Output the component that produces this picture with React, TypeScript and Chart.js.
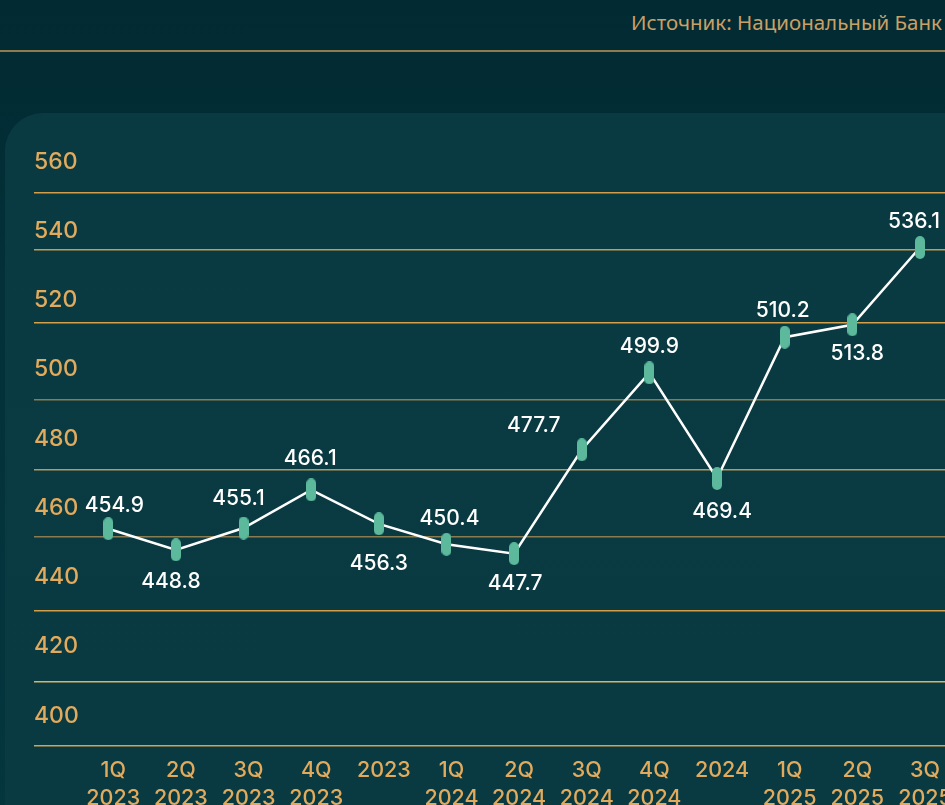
import React, { useEffect, useRef } from "react";
import { Chart, registerables } from "chart.js";

Chart.register(...registerables);

// ---- data ----
const CATEGORIES: string[][] = [
  ["1Q", "2023"], ["2Q", "2023"], ["3Q", "2023"], ["4Q", "2023"], ["2023"],
  ["1Q", "2024"], ["2Q", "2024"], ["3Q", "2024"], ["4Q", "2024"], ["2024"],
  ["1Q", "2025"], ["2Q", "2025"], ["3Q", "2025"],
];
const VALUES: number[] = [454.9, 448.8, 455.1, 466.1, 456.3, 450.4, 447.7, 477.7, 499.9, 469.4, 510.2, 513.8, 536.1];
const Y_TICKS: number[] = [400, 420, 440, 460, 480, 500, 520, 540, 560];
const SOURCE_TEXT = "Источник: Национальный Банк";

// ---- styling (kept apart from the data) ----
const GRID_LEVELS = [392.14, 410.71, 431.34, 452.59, 472.06, 492.27, 514.51, 535.39, 552.06];
const GRID_COLORS = ["#d6a24e", "#d9b266", "#d49d48", "#8a7c4f", "#b89a5c", "#8a7c4f", "#d69f4a", "#c99a4e", "#d39d4a"];
const LABEL_OFFSETS: [number, number][] = [
  [6, -23], [-5, 32], [-5, -29], [-1, -31], [0, 40], [3, -26], [1, 30],
  [-48, -24], [0, -26], [5, 33], [-2, -27], [5, 29], [-6, -26],
];
const GOLD = "#e2aa5c";
const FONT = "Inter, 'Noto Sans', sans-serif";

function makePill(): HTMLCanvasElement {
  const c = document.createElement("canvas");
  const w = 10, h = 23;
  c.width = w;
  c.height = h;
  const ctx = c.getContext("2d")!;
  const r = w / 2;
  ctx.fillStyle = "#5cb99c";
  ctx.beginPath();
  ctx.moveTo(0, r);
  ctx.arc(r, r, r, Math.PI, 0);
  ctx.lineTo(w, h - r);
  ctx.arc(r, h - r, r, 0, Math.PI);
  ctx.closePath();
  ctx.fill();
  return c;
}

const valueLabels = {
  id: "valueLabels",
  afterDatasetsDraw(chart: any) {
    const ctx = chart.ctx;
    const meta = chart.getDatasetMeta(0);
    ctx.save();
    ctx.font = `500 21px ${FONT}`;
    ctx.fillStyle = "#ffffff";
    ctx.textAlign = "center";
    ctx.textBaseline = "middle";
    meta.data.forEach((el: any, i: number) => {
      const [dx, dy] = LABEL_OFFSETS[i];
      ctx.fillText(VALUES[i].toFixed(1), el.x + dx, el.y + dy);
    });
    ctx.restore();
  },
};

export default function App() {
  const ref = useRef<HTMLCanvasElement | null>(null);

  useEffect(() => {
    document.body.style.margin = "0";
    const canvas = ref.current!;
    const pill = makePill();
    const chart = new Chart(canvas, {
      type: "line",
      data: {
        datasets: [
          {
            data: VALUES.map((v, i) => ({ x: i, y: v })),
            borderColor: "#ffffff",
            borderWidth: 2.5,
            tension: 0,
            pointStyle: pill as any,
            pointRadius: 10,
            pointHoverRadius: 10,
            fill: false,
          },
        ],
      },
      options: {
        animation: false,
        responsive: false,
        devicePixelRatio: 1,
        layout: { autoPadding: false, padding: { top: 140, left: 34, right: 0, bottom: 0 } },
        plugins: { legend: { display: false }, tooltip: { enabled: false } },
        scales: {
          x: {
            type: "linear",
            min: -1.098,
            max: 12.37,
            grid: { display: false },
            border: { display: false },
            afterBuildTicks: (scale: any) => {
              scale.ticks = CATEGORIES.map((_, i) => ({ value: i }));
            },
            afterFit: (scale: any) => {
              scale.height = 55;
              scale.paddingLeft = 0;
              scale.paddingRight = 0;
            },
            ticks: {
              color: GOLD,
              font: { family: FONT, size: 21.5, weight: "500", lineHeight: 1.3 },
              padding: -1,
              labelOffset: 5,
              maxRotation: 0,
              autoSkip: false,
              callback: (v: any) => CATEGORIES[Math.round(Number(v))] ?? "",
            },
          },
          y: {
            type: "linear",
            position: "left",
            min: 390.99,
            max: 567.16,
            grid: { display: false, drawTicks: false },
            border: { display: false },
            afterBuildTicks: (scale: any) => {
              scale.ticks = Y_TICKS.map((v) => ({ value: v }));
            },
            afterFit: (scale: any) => {
              scale.width = 0;
              scale.paddingTop = 0;
              scale.paddingBottom = 0;
            },
            ticks: {
              mirror: true,
              padding: 0,
              labelOffset: -3,
              color: GOLD,
              font: { family: FONT, size: 23, weight: "500" },
              callback: (v: any) => String(v),
            },
          },
          y2: {
            type: "linear",
            position: "right",
            min: 390.99,
            max: 567.16,
            border: { display: false },
            grid: {
              display: true,
              drawTicks: false,
              lineWidth: 1.5,
              color: (ctx: any) => GRID_COLORS[ctx.index] ?? GRID_COLORS[0],
            },
            afterBuildTicks: (scale: any) => {
              scale.ticks = GRID_LEVELS.map((v) => ({ value: v }));
            },
            afterFit: (scale: any) => {
              scale.width = 0;
              scale.paddingTop = 0;
              scale.paddingBottom = 0;
            },
            ticks: { display: false },
          },
        },
      },
      plugins: [valueLabels],
    });
    return () => chart.destroy();
  }, []);

  return (
    <div
      style={{
        position: "relative",
        width: 945,
        height: 805,
        overflow: "hidden",
        background: "linear-gradient(180deg, #022a32 0%, #03313a 40%, #04363e 100%)",
      }}
    >
      <div
        style={{
          position: "absolute",
          right: 3,
          top: 8,
          color: "#c9a066",
          fontFamily: "'Noto Sans', sans-serif",
          fontSize: 20.5,
          lineHeight: "28px",
          whiteSpace: "nowrap",
        }}
      >
        {SOURCE_TEXT}
      </div>
      <div
        style={{
          position: "absolute",
          left: 0,
          top: 50,
          width: 945,
          height: 1.5,
          background: "#8d7b4f",
        }}
      />
      <div
        style={{
          position: "absolute",
          left: 5,
          top: 113,
          width: 1000,
          height: 760,
          borderRadius: 38,
          background: "linear-gradient(180deg, #0a3a41 0%, #093a42 100%)",
        }}
      />
      <canvas ref={ref} width={945} height={805} style={{ position: "absolute", left: 0, top: 0 }} />
    </div>
  );
}
